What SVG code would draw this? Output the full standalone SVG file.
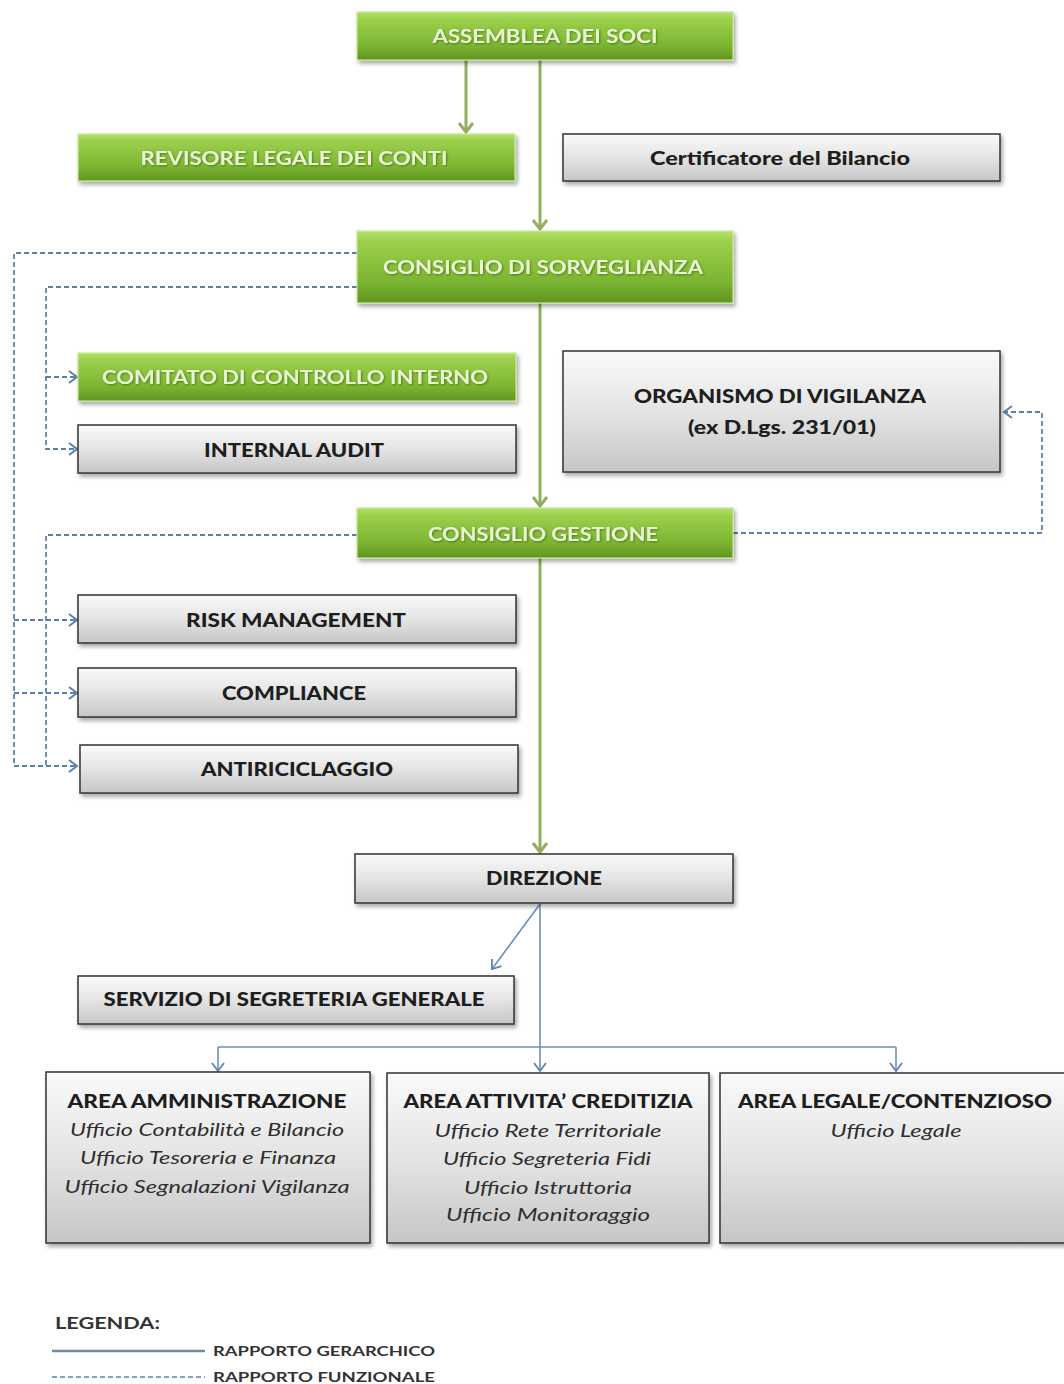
<svg xmlns="http://www.w3.org/2000/svg" width="1064" height="1384" viewBox="0 0 1064 1384">
<defs>
<linearGradient id="gGreen" x1="0" y1="0" x2="0" y2="1">
<stop offset="0" stop-color="#b4e06a"/>
<stop offset="0.15" stop-color="#9ccf4c"/>
<stop offset="0.7" stop-color="#7cb532"/>
<stop offset="1" stop-color="#5e9420"/>
</linearGradient>
<linearGradient id="gGray" x1="0" y1="0" x2="0" y2="1">
<stop offset="0" stop-color="#fafafa"/>
<stop offset="0.5" stop-color="#e4e4e4"/>
<stop offset="1" stop-color="#c6c6c6"/>
</linearGradient>
<filter id="sh" x="-5%" y="-10%" width="115%" height="140%">
<feDropShadow dx="2" dy="3" stdDeviation="2" flood-color="#000" flood-opacity="0.35"/>
</filter>
<filter id="tsh" x="-5%" y="-20%" width="110%" height="150%">
<feDropShadow dx="1" dy="1" stdDeviation="0.8" flood-color="#3d6a10" flood-opacity="0.8"/>
</filter>
<marker id="aG" markerUnits="userSpaceOnUse" markerWidth="20" markerHeight="20" refX="10" refY="10" orient="auto">
<path d="M1,3 L10,10 L1,17" fill="none" stroke="#93ad62" stroke-width="3"/>
</marker>
<marker id="aB" markerUnits="userSpaceOnUse" markerWidth="20" markerHeight="20" refX="10" refY="10" orient="auto">
<path d="M2,4 L10,10 L2,16" fill="none" stroke="#5f85b5" stroke-width="1.8"/>
</marker>
<marker id="aD" markerUnits="userSpaceOnUse" markerWidth="20" markerHeight="20" refX="10" refY="10" orient="auto">
<path d="M2,4 L10,10 L2,16" fill="none" stroke="#5a80b0" stroke-width="2"/>
</marker>
</defs>
<style>
.green{fill:url(#gGreen);stroke:#c9e89a;stroke-width:1.2;filter:url(#sh)}
.gray{fill:url(#gGray);stroke:#333;stroke-width:1.5;filter:url(#sh)}
.tg{font-family:Lato,"Liberation Sans",sans-serif;font-weight:bold;font-size:19px;fill:#e9f5d2;text-anchor:middle;filter:url(#tsh)}
.tk{font-family:Lato,"Liberation Sans",sans-serif;font-weight:900;font-size:19px;fill:#1e1e1e;text-anchor:middle}
.ti{font-family:Lato,"Liberation Sans",sans-serif;font-style:italic;font-size:18px;fill:#2e2e2e;text-anchor:middle}
.tl{font-family:Lato,"Liberation Sans",sans-serif;font-size:14px;fill:#222}
.cg{fill:none;stroke:#93ad62;stroke-width:3}
.cb{fill:none;stroke:#6b8fbd;stroke-width:1.6}
.cd{fill:none;stroke:#5a7fae;stroke-width:1.8;stroke-dasharray:5 3}
</style>
<rect width="1064" height="1384" fill="#fff"/>

<g id="connectors">
<path class="cg" d="M466,60 V132" marker-end="url(#aG)"/>
<path class="cg" d="M540,60 V229" marker-end="url(#aG)"/>
<path class="cg" d="M540,303 V506" marker-end="url(#aG)"/>
<path class="cg" d="M540,558 V852" marker-end="url(#aG)"/>
<path class="cd" d="M357,253 H14 V766 H77" marker-end="url(#aD)"/>
<path class="cd" d="M14,620 H77" marker-end="url(#aD)"/>
<path class="cd" d="M14,693 H77" marker-end="url(#aD)"/>
<path class="cd" d="M357,287 H46 V449 H77" marker-end="url(#aD)"/>
<path class="cd" d="M46,377 H77" marker-end="url(#aD)"/>
<path class="cd" d="M357,535 H46 V766"/>
<path class="cd" d="M733,533 H1042 V412 H1004" marker-end="url(#aD)"/>
<path class="cb" d="M540,904 L492,969" marker-end="url(#aB)"/>
<path class="cb" d="M540,904 V1071" marker-end="url(#aB)"/>
<path class="cb" d="M218,1047 H896"/>
<path class="cb" d="M218,1047 V1071" marker-end="url(#aB)"/>
<path class="cb" d="M896,1047 V1071" marker-end="url(#aB)"/>
</g>

<g id="assemblea">
<rect class="green" x="357" y="12" width="376" height="48"/>
<text class="tg" x="545" y="43" textLength="225" lengthAdjust="spacingAndGlyphs">ASSEMBLEA DEI SOCI</text>
</g>
<g id="revisore">
<rect class="green" x="78" y="134" width="437" height="47"/>
<text class="tg" x="294" y="165" textLength="307" lengthAdjust="spacingAndGlyphs">REVISORE LEGALE DEI CONTI</text>
</g>
<g id="certificatore">
<rect class="gray" x="563" y="134" width="437" height="47"/>
<text class="tk" x="780" y="165" textLength="260" lengthAdjust="spacingAndGlyphs">Certificatore del Bilancio</text>
</g>
<g id="sorveglianza">
<rect class="green" x="357" y="231" width="376" height="72"/>
<text class="tg" x="543" y="274" textLength="320" lengthAdjust="spacingAndGlyphs">CONSIGLIO DI SORVEGLIANZA</text>
</g>
<g id="comitato">
<rect class="green" x="78" y="353" width="438" height="48"/>
<text class="tg" x="295" y="384" textLength="386" lengthAdjust="spacingAndGlyphs">COMITATO DI CONTROLLO INTERNO</text>
</g>
<g id="internal-audit">
<rect class="gray" x="78" y="425" width="438" height="48"/>
<text class="tk" x="294" y="457" textLength="180" lengthAdjust="spacingAndGlyphs">INTERNAL AUDIT</text>
</g>
<g id="organismo">
<rect class="gray" x="563" y="351" width="437" height="121"/>
<text class="tk" x="780" y="403" textLength="292" lengthAdjust="spacingAndGlyphs">ORGANISMO DI VIGILANZA</text>
<text class="tk" x="782" y="434" textLength="188" lengthAdjust="spacingAndGlyphs">(ex D.Lgs. 231/01)</text>
</g>
<g id="gestione">
<rect class="green" x="357" y="508" width="376" height="50"/>
<text class="tg" x="543" y="541" textLength="230" lengthAdjust="spacingAndGlyphs">CONSIGLIO GESTIONE</text>
</g>
<g id="risk">
<rect class="gray" x="78" y="595" width="438" height="48"/>
<text class="tk" x="296" y="627" textLength="220" lengthAdjust="spacingAndGlyphs">RISK MANAGEMENT</text>
</g>
<g id="compliance">
<rect class="gray" x="78" y="668" width="438" height="49"/>
<text class="tk" x="294" y="700" textLength="144" lengthAdjust="spacingAndGlyphs">COMPLIANCE</text>
</g>
<g id="antiriciclaggio">
<rect class="gray" x="80" y="745" width="438" height="48"/>
<text class="tk" x="297" y="776" textLength="192" lengthAdjust="spacingAndGlyphs">ANTIRICICLAGGIO</text>
</g>
<g id="direzione">
<rect class="gray" x="355" y="854" width="378" height="49"/>
<text class="tk" x="544" y="885" textLength="116" lengthAdjust="spacingAndGlyphs">DIREZIONE</text>
</g>
<g id="segreteria">
<rect class="gray" x="78" y="976" width="436" height="48"/>
<text class="tk" x="294" y="1006" textLength="381" lengthAdjust="spacingAndGlyphs">SERVIZIO DI SEGRETERIA GENERALE</text>
</g>
<g id="area-amministrazione">
<rect class="gray" x="46" y="1072" width="324" height="171"/>
<text class="tk" x="207" y="1108" textLength="279" lengthAdjust="spacingAndGlyphs">AREA AMMINISTRAZIONE</text>
<text class="ti" x="207" y="1136" textLength="274" lengthAdjust="spacingAndGlyphs">Ufficio Contabilità e Bilancio</text>
<text class="ti" x="208" y="1164" textLength="256" lengthAdjust="spacingAndGlyphs">Ufficio Tesoreria e Finanza</text>
<text class="ti" x="207" y="1193" textLength="285" lengthAdjust="spacingAndGlyphs">Ufficio Segnalazioni Vigilanza</text>
</g>
<g id="area-creditizia">
<rect class="gray" x="387" y="1073" width="322" height="170"/>
<text class="tk" x="548" y="1108" textLength="289" lengthAdjust="spacingAndGlyphs">AREA ATTIVITA’ CREDITIZIA</text>
<text class="ti" x="548" y="1137" textLength="227" lengthAdjust="spacingAndGlyphs">Ufficio Rete Territoriale</text>
<text class="ti" x="547" y="1165" textLength="208" lengthAdjust="spacingAndGlyphs">Ufficio Segreteria Fidi</text>
<text class="ti" x="548" y="1194" textLength="168" lengthAdjust="spacingAndGlyphs">Ufficio Istruttoria</text>
<text class="ti" x="548" y="1221" textLength="204" lengthAdjust="spacingAndGlyphs">Ufficio Monitoraggio</text>
</g>
<g id="area-legale">
<rect class="gray" x="720" y="1073" width="352" height="170"/>
<text class="tk" x="895" y="1108" textLength="314" lengthAdjust="spacingAndGlyphs">AREA LEGALE/CONTENZIOSO</text>
<text class="ti" x="896" y="1137" textLength="131" lengthAdjust="spacingAndGlyphs">Ufficio Legale</text>
</g>

<g id="legenda">
<text class="tl" x="55" y="1329" style="font-size:17px;font-weight:bold;fill:#333" textLength="105" lengthAdjust="spacingAndGlyphs">LEGENDA:</text>
<path d="M52,1351 H205" fill="none" stroke="#6b8aae" stroke-width="2.5"/>
<text class="tl" x="213" y="1356" style="font-weight:bold;fill:#333" textLength="222" lengthAdjust="spacingAndGlyphs">RAPPORTO  GERARCHICO</text>
<path d="M52,1377 H205" fill="none" stroke="#5a7fae" stroke-width="1.5" stroke-dasharray="5 3"/>
<text class="tl" x="213" y="1382" style="font-weight:bold;fill:#333" textLength="222" lengthAdjust="spacingAndGlyphs">RAPPORTO  FUNZIONALE</text>
</g>
</svg>
